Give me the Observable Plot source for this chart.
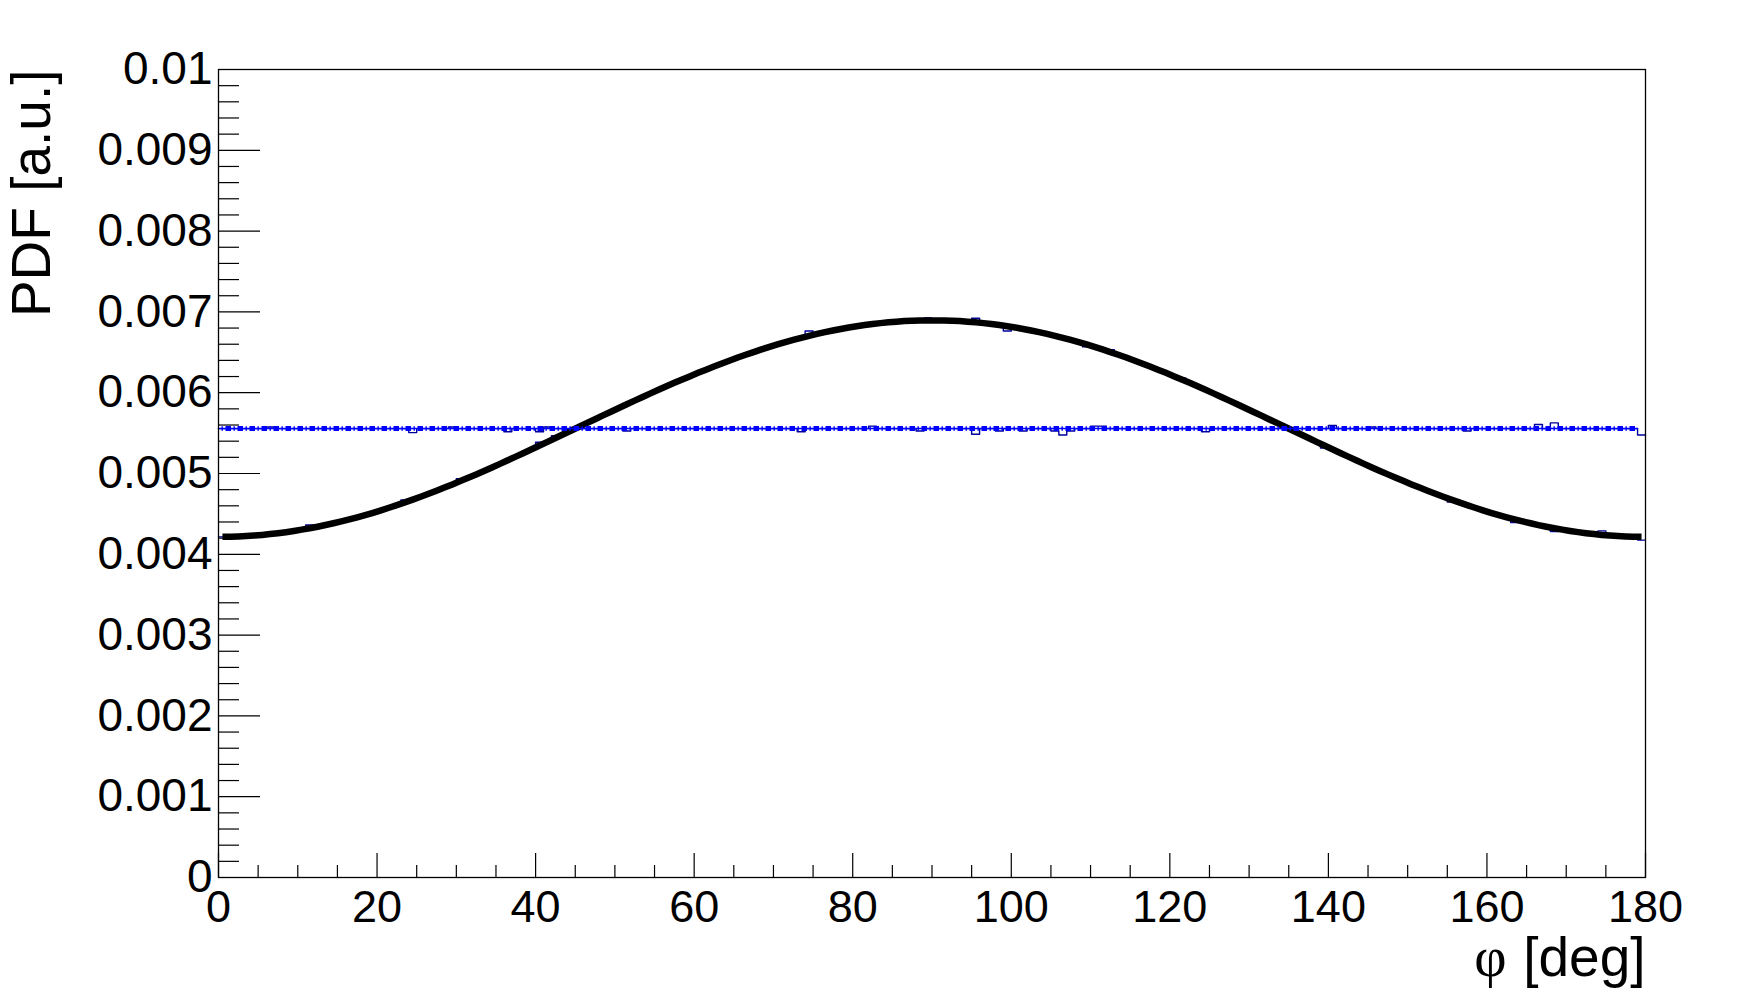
<!DOCTYPE html>
<html>
<head>
<meta charset="utf-8">
<script src="https://cdn.jsdelivr.net/npm/d3@7"></script>
<script src="https://cdn.jsdelivr.net/npm/@observablehq/plot@0.6"></script>
<style>
  html, body { margin: 0; padding: 0; background: #ffffff; }
  #chart svg { display: block; }
</style>
</head>
<body>
<div id="chart"></div>
<script>
// ---- data ----
const binEdges = [0,1,2,3,4,5,6,7,8,9,10,11,12,13,14,15,16,17,18,19,20,21,22,23,24,25,26,27,28,29,30,31,32,33,34,35,36,37,38,39,40,41,42,43,44,45,46,47,48,49,50,51,52,53,54,55,56,57,58,59,60,61,62,63,64,65,66,67,68,69,70,71,72,73,74,75,76,77,78,79,80,81,82,83,84,85,86,87,88,89,90,91,92,93,94,95,96,97,98,99,100,101,102,103,104,105,106,107,108,109,110,111,112,113,114,115,116,117,118,119,120,121,122,123,124,125,126,127,128,129,130,131,132,133,134,135,136,137,138,139,140,141,142,143,144,145,146,147,148,149,150,151,152,153,154,155,156,157,158,159,160,161,162,163,164,165,166,167,168,169,170,171,172,173,174,175,176,177,178,179,180];

// uniform-distribution histogram (1 deg bins)
const flatHist = [
0.005556,0.005556,0.005556,0.005556,0.005556,0.005556,0.005576,0.005556,0.005556,0.005556,
0.005556,0.005556,0.005556,0.005556,0.005556,0.005556,0.005556,0.005556,0.005556,0.005556,
0.005556,0.005556,0.005556,0.005556,0.005506,0.005556,0.005556,0.005556,0.005556,0.005576,
0.005556,0.005556,0.005556,0.005556,0.005556,0.005556,0.005516,0.005556,0.005556,0.005556,
0.005516,0.005576,0.005556,0.005556,0.005556,0.005556,0.005556,0.005556,0.005556,0.005556,
0.005556,0.005526,0.005556,0.005556,0.005556,0.005556,0.005556,0.005556,0.005556,0.005556,
0.005556,0.005556,0.005556,0.005556,0.005556,0.005556,0.005556,0.005556,0.005556,0.005556,
0.005556,0.005556,0.005556,0.005516,0.005556,0.005556,0.005556,0.005556,0.005556,0.005556,
0.005556,0.005556,0.005586,0.005556,0.005556,0.005556,0.005556,0.005556,0.005526,0.005556,
0.005556,0.005556,0.005556,0.005556,0.005556,0.005486,0.005556,0.005556,0.005526,0.005556,
0.005556,0.005526,0.005556,0.005556,0.005556,0.005526,0.005476,0.005526,0.005556,0.005556,
0.005586,0.005586,0.005556,0.005556,0.005556,0.005556,0.005556,0.005556,0.005556,0.005556,
0.005556,0.005556,0.005556,0.005556,0.005516,0.005556,0.005556,0.005556,0.005556,0.005556,
0.005556,0.005556,0.005556,0.005556,0.005556,0.005556,0.005556,0.005556,0.005556,0.005556,
0.005596,0.005556,0.005556,0.005556,0.005556,0.005576,0.005556,0.005556,0.005556,0.005556,
0.005556,0.005556,0.005556,0.005556,0.005556,0.005556,0.005556,0.005526,0.005556,0.005556,
0.005556,0.005556,0.005556,0.005556,0.005556,0.005556,0.005606,0.005556,0.005626,0.005556,
0.005556,0.005556,0.005556,0.005556,0.005556,0.005556,0.005556,0.005556,0.005556,0.005476
];

// modulated-distribution histogram (1 deg bins)
const cosHist = [
0.004216,0.004217,0.004221,0.004226,0.004232,0.004240,0.004250,0.004261,0.004274,0.004289,
0.004305,0.004362,0.004341,0.004362,0.004384,0.004407,0.004432,0.004458,0.004485,0.004514,
0.004544,0.004576,0.004608,0.004672,0.004677,0.004712,0.004749,0.004787,0.004826,0.004865,
0.004936,0.004947,0.004989,0.005032,0.005075,0.005119,0.005164,0.005209,0.005254,0.005300,
0.005386,0.005392,0.005469,0.005486,0.005532,0.005579,0.005626,0.005672,0.005719,0.005765,
0.005811,0.005857,0.005902,0.005947,0.005992,0.006036,0.006079,0.006122,0.006164,0.006205,
0.006246,0.006285,0.006324,0.006362,0.006399,0.006435,0.006470,0.006503,0.006536,0.006567,
0.006597,0.006626,0.006653,0.006679,0.006764,0.006728,0.006750,0.006770,0.006789,0.006807,
0.006823,0.006837,0.006850,0.006861,0.006871,0.006879,0.006886,0.006890,0.006894,0.006925,
0.006895,0.006894,0.006890,0.006886,0.006879,0.006921,0.006861,0.006850,0.006837,0.006763,
0.006807,0.006789,0.006770,0.006750,0.006728,0.006704,0.006679,0.006653,0.006626,0.006567,
0.006567,0.006536,0.006533,0.006470,0.006435,0.006399,0.006362,0.006324,0.006285,0.006246,
0.006205,0.006184,0.006122,0.006079,0.006036,0.005992,0.005947,0.005902,0.005857,0.005811,
0.005765,0.005719,0.005672,0.005626,0.005579,0.005532,0.005486,0.005439,0.005392,0.005316,
0.005300,0.005254,0.005209,0.005164,0.005119,0.005075,0.005032,0.004989,0.004947,0.004906,
0.004865,0.004826,0.004787,0.004749,0.004712,0.004647,0.004642,0.004608,0.004576,0.004544,
0.004514,0.004485,0.004458,0.004392,0.004407,0.004384,0.004362,0.004341,0.004282,0.004305,
0.004289,0.004274,0.004261,0.004250,0.004290,0.004232,0.004226,0.004221,0.004217,0.004176
];

// smooth black curve, sampled at bin centres
const fitCurve = [
0.004216,0.004217,0.004221,0.004226,0.004232,0.004240,0.004250,0.004261,0.004274,0.004289,
0.004305,0.004322,0.004341,0.004362,0.004384,0.004407,0.004432,0.004458,0.004485,0.004514,
0.004544,0.004576,0.004608,0.004642,0.004677,0.004712,0.004749,0.004787,0.004826,0.004865,
0.004906,0.004947,0.004989,0.005032,0.005075,0.005119,0.005164,0.005209,0.005254,0.005300,
0.005346,0.005392,0.005439,0.005486,0.005532,0.005579,0.005626,0.005672,0.005719,0.005765,
0.005811,0.005857,0.005902,0.005947,0.005992,0.006036,0.006079,0.006122,0.006164,0.006205,
0.006246,0.006285,0.006324,0.006362,0.006399,0.006435,0.006470,0.006503,0.006536,0.006567,
0.006597,0.006626,0.006653,0.006679,0.006704,0.006728,0.006750,0.006770,0.006789,0.006807,
0.006823,0.006837,0.006850,0.006861,0.006871,0.006879,0.006886,0.006890,0.006894,0.006895,
0.006895,0.006894,0.006890,0.006886,0.006879,0.006871,0.006861,0.006850,0.006837,0.006823,
0.006807,0.006789,0.006770,0.006750,0.006728,0.006704,0.006679,0.006653,0.006626,0.006597,
0.006567,0.006536,0.006503,0.006470,0.006435,0.006399,0.006362,0.006324,0.006285,0.006246,
0.006205,0.006164,0.006122,0.006079,0.006036,0.005992,0.005947,0.005902,0.005857,0.005811,
0.005765,0.005719,0.005672,0.005626,0.005579,0.005532,0.005486,0.005439,0.005392,0.005346,
0.005300,0.005254,0.005209,0.005164,0.005119,0.005075,0.005032,0.004989,0.004947,0.004906,
0.004865,0.004826,0.004787,0.004749,0.004712,0.004677,0.004642,0.004608,0.004576,0.004544,
0.004514,0.004485,0.004458,0.004432,0.004407,0.004384,0.004362,0.004341,0.004322,0.004305,
0.004289,0.004274,0.004261,0.004250,0.004240,0.004232,0.004226,0.004221,0.004217,0.004216
];

// flat blue fit line
const flatFitPhi = [0, 179];
const flatFitValue = [0.005556, 0.005556];

// axis ticks
const xMajor = [0, 20, 40, 60, 80, 100, 120, 140, 160, 180];
const xMinor = [5, 10, 15, 25, 30, 35, 45, 50, 55, 65, 70, 75, 85, 90, 95, 105, 110, 115, 125, 130, 135, 145, 150, 155, 165, 170, 175];
const yMajor = [0, 0.001, 0.002, 0.003, 0.004, 0.005, 0.006, 0.007, 0.008, 0.009, 0.01];
const yMinor = [0.0002,0.0004,0.0006,0.0008,0.0012,0.0014,0.0016,0.0018,0.0022,0.0024,0.0026,0.0028,0.0032,0.0034,0.0036,0.0038,0.0042,0.0044,0.0046,0.0048,0.0052,0.0054,0.0056,0.0058,0.0062,0.0064,0.0066,0.0068,0.0072,0.0074,0.0076,0.0078,0.0082,0.0084,0.0086,0.0088,0.0092,0.0094,0.0096,0.0098];

const xTitleSymbol = "φ";
const xTitleUnit = "[deg]";
const yTitle = "PDF [a.u.]";

// ---- tables built from the arrays ----
const stepRows = (vals) => binEdges.map((e, i) => ({phi: e, v: vals[Math.min(i, vals.length - 1)]}));
const flatRows = stepRows(flatHist);
const cosRows = stepRows(cosHist);
const curveRows = fitCurve.map((v, i) => ({phi: (binEdges[i] + binEdges[i + 1]) / 2, v}));
const flatFitRows = flatFitPhi.map((p, i) => ({phi: p, v: flatFitValue[i]}));

const SANS = "'Liberation Sans', Arial, Helvetica, sans-serif";
const navy = "#00009c";
const blue = "#0000ff";

const chart = Plot.plot({
  width: 1741,
  height: 999,
  marginLeft: 218,
  marginRight: 96,
  marginTop: 69,
  marginBottom: 122,
  x: {domain: [0, 180], axis: null},
  y: {domain: [0, 0.01], axis: null},
  style: {fontFamily: SANS, background: "#ffffff", color: "#000000"},
  marks: [
    Plot.line(flatRows, {x: "phi", y: "v", curve: "step-after", stroke: navy, strokeWidth: 1.4}),
    Plot.line(cosRows, {x: "phi", y: "v", curve: "step-after", stroke: navy, strokeWidth: 1.4}),
    Plot.line(curveRows, {x: "phi", y: "v", stroke: "#000000", strokeWidth: 6.5, strokeLinecap: "butt", strokeLinejoin: "round"}),
    Plot.line(flatFitRows, {x: "phi", y: "v", stroke: blue, strokeWidth: 1.5}),
    Plot.line(flatFitRows, {x: "phi", y: "v", stroke: blue, strokeWidth: 5, strokeDasharray: "5.5 6.5", strokeDashoffset: 5, strokeLinecap: "butt"}),
    Plot.line(flatFitRows, {x: "phi", y: "v", stroke: blue, strokeWidth: 4.5, strokeDasharray: "1.4 10.6", strokeDashoffset: 9, strokeLinecap: "butt"}),
    Plot.frame({stroke: "#000000", strokeWidth: 1.3}),
    Plot.axisY(yMinor, {anchor: "left", tickSize: -21, fill: "none", strokeWidth: 1.2}),
    Plot.axisY(yMajor, {anchor: "left", tickSize: -42, fill: "none", strokeWidth: 1.2}),
    Plot.axisY(yMajor, {anchor: "left", tickSize: 0, tickPadding: 6, fontSize: 46, tickFormat: d => String(d), label: null}),
    Plot.axisX(xMinor, {anchor: "bottom", tickSize: -12, fill: "none", strokeWidth: 1.2}),
    Plot.axisX(xMajor, {anchor: "bottom", tickSize: -24, fill: "none", strokeWidth: 1.2}),
    Plot.axisX(xMajor, {anchor: "bottom", tickSize: 0, tickPadding: 13, fontSize: 45, tickFormat: d => String(d), label: null}),
    Plot.text([yTitle], {text: d => d, frameAnchor: "top-left", rotate: -90, textAnchor: "end", lineAnchor: "bottom", dx: -169, fontSize: 55, fill: "#000000"}),
    Plot.text([xTitleUnit], {text: d => d, frameAnchor: "bottom-right", textAnchor: "end", lineAnchor: "bottom", dy: 98, fontSize: 55, fill: "#000000"}),
    Plot.text([xTitleSymbol], {text: d => d, frameAnchor: "bottom-right", textAnchor: "end", lineAnchor: "bottom", dy: 98, dx: -139, fontSize: 56, fontFamily: "'Liberation Serif', 'DejaVu Serif', serif", fill: "#000000"})
  ]
});

document.getElementById("chart").append(chart);
</script>
</body>
</html>
